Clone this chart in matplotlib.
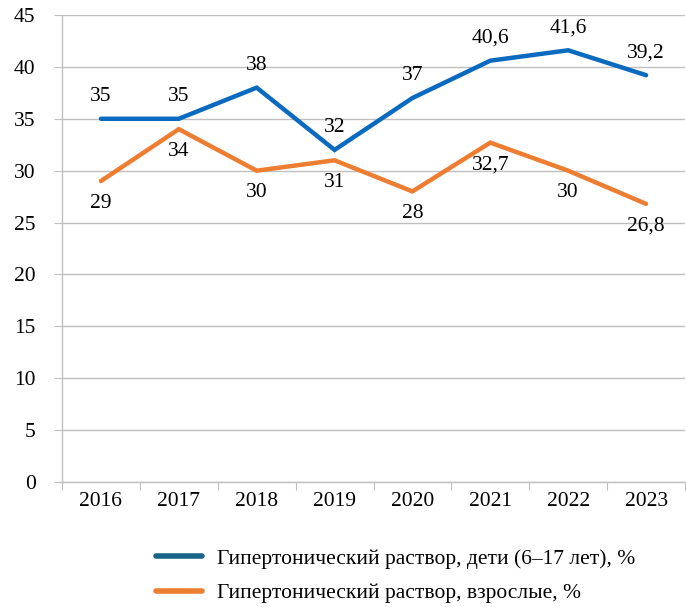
import matplotlib.pyplot as plt
from matplotlib.lines import Line2D

years = ['2016', '2017', '2018', '2019', '2020', '2021', '2022', '2023']
children = [35, 35, 38, 32, 37, 40.6, 41.6, 39.2]
adults = [29, 34, 30, 31, 28, 32.7, 30, 26.8]
labels = ['Гипертонический раствор, дети (6–17 лет), %',
          'Гипертонический раствор, взрослые, %']

blue = '#0A6ABF'
blue_legend = '#1A6389'
orange = '#ED7D31'
grid_color = '#BFBFBF'

plt.rcParams['font.family'] = ['Liberation Serif', 'DejaVu Serif']
fs = 15.5

fig = plt.figure(figsize=(6.86, 6.07), dpi=100)
ax = fig.add_axes([62 / 686, 1 - 482 / 607, 623 / 686, 467 / 607])

x = list(range(len(years)))
ax.plot(x, children, color=blue, lw=3.2, solid_capstyle='round', solid_joinstyle='miter')
ax.plot(x, adults, color=orange, lw=3.2, solid_capstyle='round', solid_joinstyle='miter')


def fmt(v):
    return f'{v:g}'.replace('.', ',')


for xi, v in zip(x, children):
    ax.annotate(fmt(v), (xi, v), xytext=(0, 16), textcoords='offset points',
                ha='center', va='center', fontsize=fs)
for xi, v in zip(x, adults):
    ax.annotate(fmt(v), (xi, v), xytext=(0, -16), textcoords='offset points',
                ha='center', va='center', fontsize=fs)

ax.set_xlim(-0.5, len(years) - 0.5)
ax.set_ylim(0, 45)
ax.set_yticks(range(0, 46, 5))
ax.tick_params(axis='y', labelsize=fs)
ax.set_xticks([i - 0.5 for i in range(len(years) + 1)], minor=False)
ax.set_xticklabels([])
ax.set_xticks(x, minor=True)
ax.set_xticklabels(years, minor=True, fontsize=fs)
ax.tick_params(axis='x', which='major', length=6, color=grid_color, direction='out')
ax.tick_params(axis='x', which='minor', length=0, pad=7)
ax.tick_params(axis='y', length=6, color=grid_color, pad=13)

ax.grid(axis='y', color=grid_color, lw=1)
ax.set_axisbelow(True)
for s in ['top', 'right']:
    ax.spines[s].set_visible(False)
for s in ['left', 'bottom']:
    ax.spines[s].set_color(grid_color)
    ax.spines[s].set_linewidth(1)

handles = [Line2D([], [], color=blue_legend, lw=4, solid_capstyle='round'),
           Line2D([], [], color=orange, lw=4, solid_capstyle='round')]
fig.legend(handles, labels, loc='center left', bbox_to_anchor=(137 / 686, 1 - 576 / 607),
           frameon=False, handlelength=2.1, handletextpad=0.7, labelspacing=0.65, fontsize=fs)

fig.savefig('out.png', dpi=100)
